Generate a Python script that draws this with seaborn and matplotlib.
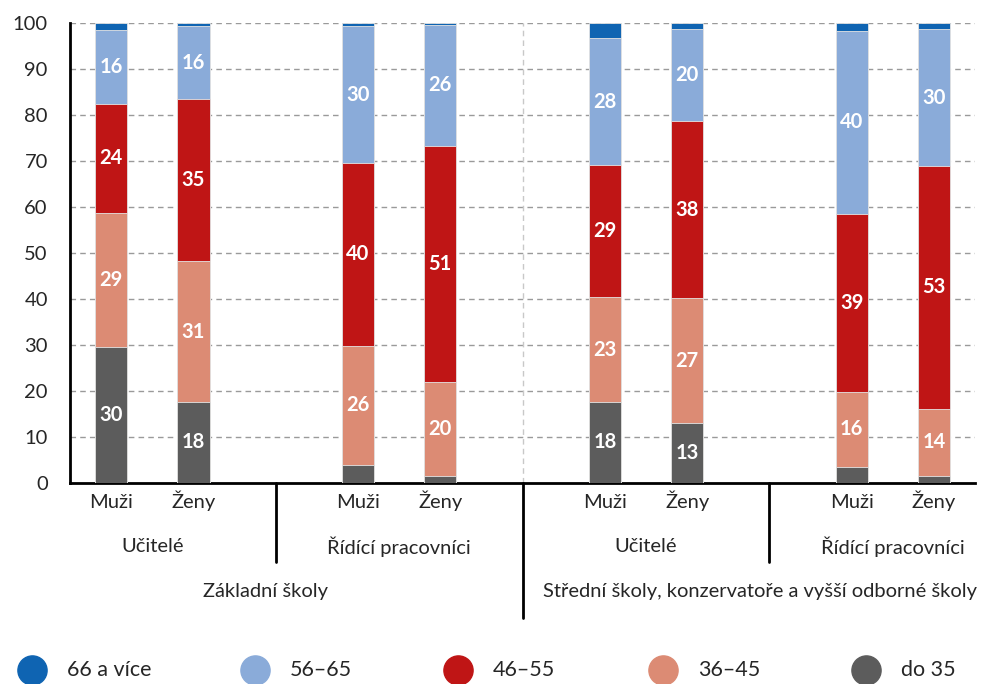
import pandas as pd
import matplotlib.pyplot as plt
import seaborn as sns
from matplotlib.lines import Line2D

# bar positions (gaps between groups) and labels
positions = [0, 1, 3, 4, 6, 7, 9, 10]
sex_labels = ['Muži', 'Ženy', 'Muži', 'Ženy', 'Muži', 'Ženy', 'Muži', 'Ženy']
role_labels = ['Učitelé', 'Řídící pracovníci', 'Učitelé', 'Řídící pracovníci']
school_labels = ['Základní školy', 'Střední školy, konzervatoře a vyšší odborné školy']

# shares of age groups in %
do35 = [29.6, 17.6, 3.9, 1.6, 17.6, 13.0, 3.5, 1.6]
age36_45 = [29.1, 30.6, 25.9, 20.4, 22.8, 27.2, 16.3, 14.4]
age46_55 = [23.7, 35.2, 39.8, 51.3, 28.7, 38.4, 38.7, 53.0]
age56_65 = [16.1, 15.9, 29.7, 26.3, 27.6, 20.0, 39.8, 29.6]
age66 = [1.5, 0.7, 0.7, 0.4, 3.3, 1.4, 1.7, 1.4]

series_names = ['do 35', '36–45', '46–55', '56–65', '66 a více']
colors = ['#5c5c5c', '#dc8b74', '#bf1515', '#8aabd9', '#0f64b2']

df = pd.DataFrame({'pos': positions, 'do 35': do35, '36–45': age36_45,
                   '46–55': age46_55, '56–65': age56_65, '66 a více': age66})

sns.set_style('white')
plt.rcParams['font.family'] = ['Lato', 'DejaVu Sans']

fig = plt.figure(figsize=(9.81, 6.84), dpi=100)
ax = fig.add_axes([0.0714, 0.2939, 0.9226, 0.6725])

# stacked bars: draw cumulative totals from the top segment down
cum = df[series_names].cumsum(axis=1)
for name, col in reversed(list(zip(series_names, colors))):
    sns.barplot(x=df['pos'], y=cum[name], color=col, saturation=1, native_scale=True,
                orient='x', width=0.39, errorbar=None, ax=ax,
                edgecolor='#e4e4e4', linewidth=0.6, zorder=3)

# value labels
for i, row in df.iterrows():
    bottom = 0
    for name in series_names:
        v = row[name]
        if v >= 10:
            ax.text(row['pos'], bottom + v / 2, f'{v:.0f}', ha='center', va='center',
                    color='white', fontsize=14.5, fontweight='bold', zorder=5)
        bottom += v

ax.set_xlim(-0.5, 10.5)
ax.set_ylim(0, 100)
ax.set_yticks(range(0, 101, 10))
ax.set_xticks(positions)
ax.set_xticklabels(sex_labels)
ax.tick_params(axis='both', length=0, labelsize=14.5)
ax.tick_params(axis='x', pad=18)
ax.tick_params(axis='y', pad=16)
for lab in ax.get_xticklabels():
    lab.set_verticalalignment('baseline')
ax.set_xlabel('')
ax.set_ylabel('')

for y in range(10, 101, 10):
    ax.axhline(y, color='#9a9a9a', linestyle=(0, (4, 3)), linewidth=1, zorder=1)
ax.axvline(5, color='#c8c8c8', linestyle=(0, (4, 3)), linewidth=1, zorder=1)

for s in ['top', 'right']:
    ax.spines[s].set_visible(False)
ax.spines['left'].set_color('black')
ax.spines['left'].set_linewidth(2)
ax.spines['bottom'].set_color('black')
ax.spines['bottom'].set_linewidth(2)

# multi-level category axis
trans = ax.get_xaxis_transform()
for x in [2, 8]:
    ax.plot([x, x], [0, -0.172], color='black', lw=2, transform=trans, clip_on=False)
ax.plot([5, 5], [0, -0.293], color='black', lw=2, transform=trans, clip_on=False)

for x, lab in zip([0.5, 3.5, 6.5, 9.5], role_labels):
    ax.text(x, -0.139, lab, transform=trans, ha='center', va='center', fontsize=14.5)
for x, lab in zip([1.87, 7.88], school_labels):
    ax.text(x, -0.237, lab, transform=trans, ha='center', va='center', fontsize=14.5)

# legend, placed item by item
marker_x = [32, 255, 458, 663, 866]
for mx, name, col in zip(marker_x, reversed(series_names), reversed(colors)):
    fig.add_artist(Line2D([mx / 981], [0.0205], marker='o', linestyle='', markersize=21,
                          markerfacecolor=col, markeredgecolor=col, transform=fig.transFigure))
    fig.text((mx + 35) / 981, 0.0205, name, ha='left', va='center', fontsize=15.5)

plt.savefig('out.png', dpi=100)
